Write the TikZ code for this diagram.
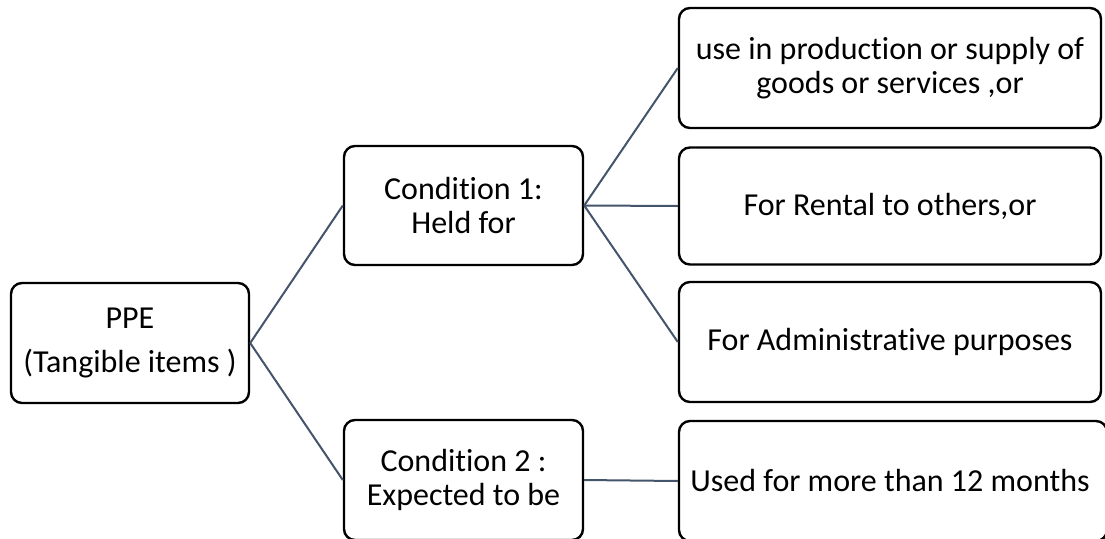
\documentclass[tikz,border=0pt]{standalone}
\usepackage{fontspec}
\setmainfont[Ligatures=NoCommon]{Carlito}
\begin{document}
\begin{tikzpicture}[x=1pt,y=-1pt,
  box/.style={draw=black, line width=2.4pt, rounded corners=11pt, fill=white,
    align=center, inner sep=0pt, font=\fontsize{32}{34}\selectfont},
  link/.style={draw=linkcol, line width=2pt}]
\definecolor{linkcol}{HTML}{44546A}
\useasboundingbox (0,0) rectangle (1105,538);
% boxes
\node[box, minimum width=238pt, minimum height=120pt] (ppe) at (130,343)
  {PPE\\[10pt] (Tangible items )};
\node[box, minimum width=239pt, minimum height=119pt] (c1) at (463.5,205.5)
  {Condition 1:\\Held for};
\node[box, minimum width=239pt, minimum height=120pt] (c2) at (463.5,480)
  {Condition 2 :\\Expected to be};
\node[box, minimum width=422pt, minimum height=120pt] (r1) at (890,68)
  {use in production or supply of\\goods or services ,or};
\node[box, minimum width=422pt, minimum height=117pt] (r2) at (890,206)
  {For Rental to others,or};
\node[box, minimum width=422pt, minimum height=120pt] (r3) at (890,342)
  {For Administrative purposes};
\node[box, minimum width=428pt, minimum height=120pt] (r4) at (893,481)
  {\hspace*{-6pt}Used for more than 12 months};
% connectors
\draw[link] (ppe.east) -- (c1.west);
\draw[link] (ppe.east) -- (c2.west);
\draw[link] (c1.east) -- (r1.west);
\draw[link] (c1.east) -- (r2.west);
\draw[link] (c1.east) -- (r3.west);
\draw[link] (c2.east) -- (r4.west);
\end{tikzpicture}
\end{document}
